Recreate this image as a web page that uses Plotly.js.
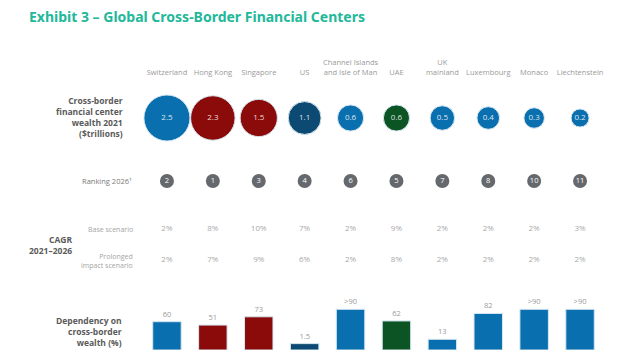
<!DOCTYPE html>
<html>
<head>
<meta charset="utf-8">
<script src="https://cdn.plot.ly/plotly-3.0.1.min.js"></script>
<style>html,body{margin:0;padding:0;background:#fff;}#chart{width:640px;height:350px;}</style>
</head>
<body>
<div id="chart"></div>
<script>
// ---- data ----
var centers = ['Switzerland', 'Hong Kong', 'Singapore', 'US', 'Channel Islands<br>and Isle of Man', 'UAE', 'UK<br>mainland', 'Luxembourg', 'Monaco', 'Liechtenstein'];
var wealth2021 = [2.5, 2.3, 1.5, 1.1, 0.6, 0.6, 0.5, 0.4, 0.3, 0.2];
var ranking2026 = [2, 1, 3, 4, 6, 5, 7, 8, 10, 11];
var cagrBase = ['2%', '8%', '10%', '7%', '2%', '9%', '2%', '2%', '2%', '3%'];
var cagrProlonged = ['2%', '7%', '9%', '6%', '2%', '8%', '2%', '2%', '2%', '2%'];
var dependency = [60, 51, 73, 1.5, 93, 62, 13, 82, 93, 93];
var dependencyLabels = ['60', '51', '73', '1.5', '>90', '62', '13', '82', '>90', '>90'];
var regionGroup = ['eu', 'asia', 'asia', 'us', 'eu', 'me', 'eu', 'eu', 'eu', 'eu'];

// ---- styles ----
var groupColors = {eu: '#0a6fae', asia: '#8b0a0a', us: '#0d4a73', me: '#0c5423'};
var colors = regionGroup.map(function (g) { return groupColors[g]; });
var FONT = 'Open Sans, Noto Sans, sans-serif';
var bubbleSize = wealth2021.map(function (v) { return 7 + 24.7 * Math.sqrt(v); });

var traces = [
  {
    type: 'scatter', mode: 'markers+text', x: centers, y: wealth2021.map(function () { return 0.5; }),
    xaxis: 'x', yaxis: 'y',
    marker: {size: bubbleSize, color: colors, line: {width: 1, color: '#d6e7f1'}, opacity: 1},
    text: wealth2021.map(String), textposition: 'middle center',
    textfont: {family: FONT, size: 8, color: 'rgba(255,255,255,0.85)'},
    hoverinfo: 'skip', cliponaxis: false
  },
  {
    type: 'scatter', mode: 'markers+text', x: centers, y: ranking2026.map(function () { return 0.5; }),
    xaxis: 'x', yaxis: 'y2',
    marker: {size: 14, color: '#65686c'},
    text: ranking2026.map(String), textposition: 'middle center',
    textfont: {family: FONT, size: 7.5, color: '#ffffff'},
    hoverinfo: 'skip', cliponaxis: false
  },
  {
    type: 'scatter', mode: 'text', x: centers, y: cagrBase.map(function () { return 1; }),
    xaxis: 'x', yaxis: 'y3', text: cagrBase, textposition: 'middle center',
    textfont: {family: FONT, size: 8, color: '#a9a9a9'}, hoverinfo: 'skip', cliponaxis: false
  },
  {
    type: 'scatter', mode: 'text', x: centers, y: cagrProlonged.map(function () { return 0; }),
    xaxis: 'x', yaxis: 'y3', text: cagrProlonged, textposition: 'middle center',
    textfont: {family: FONT, size: 8, color: '#a9a9a9'}, hoverinfo: 'skip', cliponaxis: false
  },
  {
    type: 'bar', x: centers, y: dependency.map(function (v) { return v + 15.5; }), base: -15.5,
    xaxis: 'x', yaxis: 'y4',
    marker: {color: colors, line: {width: 1, color: '#d6e7f1'}},
    text: dependencyLabels, textposition: 'outside', cliponaxis: false,
    textfont: {family: FONT, size: 7.5, color: '#9a9a9a'}, hoverinfo: 'skip'
  }
];

function hidden(domain, range) {
  return {domain: domain, range: range, visible: false, fixedrange: true};
}

var labelFont = {family: FONT, size: 8.5, color: '#5a5a5a'};
function px(x) { return (x - 144) / 459; }
function py(y) { return 1 - y / 350; }

var annotations = [
  {text: '<b>Cross-border<br>financial center<br>wealth 2021<br>($trillions)</b>', x: px(125), y: py(117), xanchor: 'right', yanchor: 'middle', align: 'right', font: labelFont},
  {text: 'Ranking 2026¹', x: px(134), y: py(181), xanchor: 'right', yanchor: 'middle', align: 'right', font: {family: FONT, size: 7.5, color: '#7a7a7a'}},
  {text: 'Base scenario', x: px(135), y: py(229), xanchor: 'right', yanchor: 'middle', align: 'right', font: {family: FONT, size: 7, color: '#a5a5a5'}},
  {text: 'Prolonged<br>impact scenario', x: px(135), y: py(261), xanchor: 'right', yanchor: 'middle', align: 'right', font: {family: FONT, size: 7, color: '#a5a5a5'}},
  {text: '<b>CAGR<br>2021–2026</b>', x: px(75), y: py(245), xanchor: 'right', yanchor: 'middle', align: 'right', font: labelFont},
  {text: '<b>Dependency on<br>cross-border<br>wealth (%)</b>', x: px(124), y: py(350), xanchor: 'right', yanchor: 'bottom', align: 'right', font: labelFont}
];
annotations.forEach(function (a) { a.xref = 'paper'; a.yref = 'paper'; a.showarrow = false; });

var layout = {
  width: 640, height: 350,
  margin: {l: 144, r: 37, t: 0, b: 0, pad: 0},
  paper_bgcolor: '#ffffff', plot_bgcolor: '#ffffff',
  showlegend: false,
  bargap: 0.38,
  title: {
    text: '<b>Exhibit 3 – Global Cross-Border Financial Centers</b>',
    x: 29 / 640, xanchor: 'left', xref: 'container',
    y: 1 - 17 / 350, yanchor: 'middle', yref: 'container',
    font: {family: 'Noto Sans, sans-serif', size: 14, color: '#22b89a'}
  },
  xaxis: {
    type: 'category', categoryorder: 'array', categoryarray: centers,
    range: [-0.5, 9.5], side: 'top', anchor: 'free', position: py(76),
    showgrid: false, zeroline: false, showline: false, ticks: '',
    tickfont: {family: FONT, size: 7.5, color: '#9a9a9a'}, fixedrange: true
  },
  yaxis: hidden([py(148), py(88)], [0, 1]),
  yaxis2: hidden([py(196), py(166)], [0, 1]),
  yaxis3: hidden([py(275.5), py(213.5)], [-0.5, 1.5]),
  yaxis4: hidden([0, py(290)], [-15.5, 144.5]),
  annotations: annotations
};

Plotly.newPlot('chart', traces, layout, {displayModeBar: false, staticPlot: true});
</script>
</body>
</html>
